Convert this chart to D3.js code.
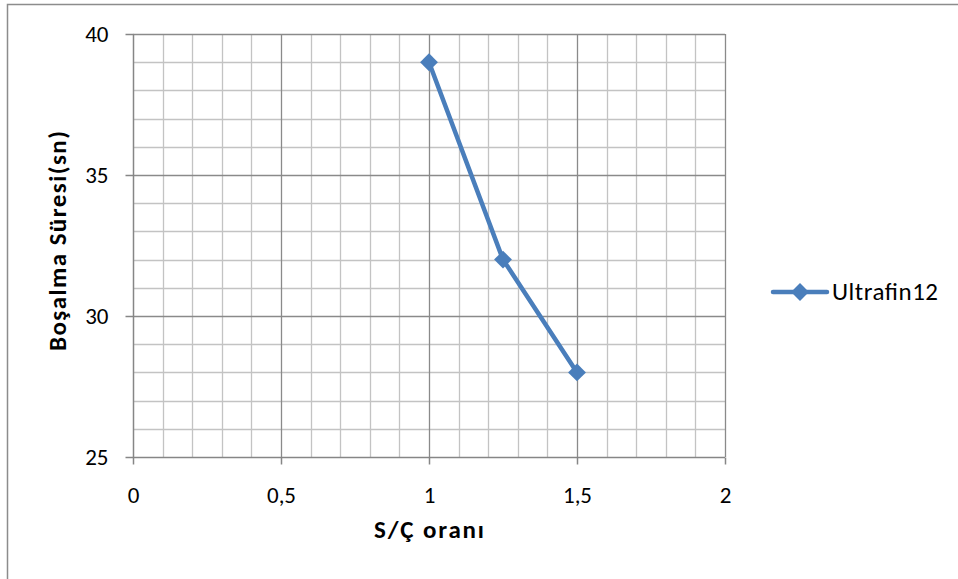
<!DOCTYPE html>
<html>
<head>
<meta charset="utf-8">
<script src="https://cdn.jsdelivr.net/npm/d3@7"></script>
<style>
  body { margin: 0; background: #fff; }
  svg { font-family: Carlito, "Open Sans", "Noto Sans", sans-serif; }
</style>
</head>
<body>
<script>
const seriesName = 'Ultrafin12'
const xValues = [1, 1.25, 1.5]
const yValues = [39, 32, 28]
const xTicks = [0, 0.5, 1, 1.5, 2]
const yTicks = [25, 30, 35, 40]
const xTitle = 'S/Ç oranı'
const yTitle = 'Boşalma Süresi(sn)'

const chart = () => {
    let width = 958,
        height = 579
    let pLeft = 133, pRight = 725, pTop = 34, pBottom = 457
    let blue = '#4a7ebb'

    let svg = d3.select('body').append('svg')
        .attr('width', width)
        .attr('height', height)

    // outer chart border (only top/left visible)
    svg.append('path')
        .attr('d', `M7.5,${height} V4.5 H${width}`)
        .attr('fill', 'none')
        .attr('stroke', '#8c8c8c')
        .attr('stroke-width', 1.5)

    let x = d3.scaleLinear().domain([0, 2]).range([pLeft, pRight])
    let y = d3.scaleLinear().domain([25, 40]).range([pBottom, pTop])

    let fmt = d => String(d).replace('.', ',')

    // minor grid
    let grid = svg.append('g')
    grid.selectAll('.vminor')
        .data(d3.range(1, 20).map(i => i / 10).filter((d, i) => (i + 1) % 5 !== 0))
        .enter().append('line')
        .attr('x1', d => Math.round(x(d)) + 0.5).attr('x2', d => Math.round(x(d)) + 0.5)
        .attr('y1', pTop).attr('y2', pBottom)
        .attr('stroke', '#c3c3c3').attr('stroke-width', 1.3)
    grid.selectAll('.hminor')
        .data(d3.range(26, 40).filter(d => d % 5 !== 0))
        .enter().append('line')
        .attr('y1', d => Math.round(y(d)) + 0.5).attr('y2', d => Math.round(y(d)) + 0.5)
        .attr('x1', pLeft).attr('x2', pRight)
        .attr('stroke', '#c3c3c3').attr('stroke-width', 1.3)

    // major grid
    grid.selectAll('.vmajor')
        .data(xTicks.slice(1))
        .enter().append('line')
        .attr('x1', d => Math.round(x(d)) + 0.5).attr('x2', d => Math.round(x(d)) + 0.5)
        .attr('y1', pTop).attr('y2', pBottom)
        .attr('stroke', '#8a8a8a').attr('stroke-width', 1.3)
    grid.selectAll('.hmajor')
        .data(yTicks.slice(1))
        .enter().append('line')
        .attr('y1', d => Math.round(y(d)) + 0.5).attr('y2', d => Math.round(y(d)) + 0.5)
        .attr('x1', pLeft).attr('x2', pRight)
        .attr('stroke', '#8a8a8a').attr('stroke-width', 1.3)

    // axes
    let xAxis = svg.append('g')
        .attr('transform', `translate(0,${pBottom + 0.5})`)
        .call(d3.axisBottom(x).tickValues(xTicks).tickFormat(fmt).tickSize(7).tickPadding(22))
    let yAxis = svg.append('g')
        .attr('transform', `translate(${pLeft + 0.5},0)`)
        .call(d3.axisLeft(y).tickValues(yTicks).tickSize(8).tickPadding(17))

    svg.selectAll('.domain, .tick line')
        .attr('stroke', '#868686')
        .attr('stroke-width', 1.5)
    svg.selectAll('.tick text')
        .attr('fill', '#000')
        .style('font-size', '23px')
        .style('font-family', 'Carlito, "Open Sans", "Noto Sans", sans-serif')
    xAxis.select('.domain').attr('d', `M${pLeft},0H${pRight}`)
    yAxis.select('.domain').attr('d', `M0,${pTop}V${pBottom}`)

    // titles
    svg.append('text')
        .attr('x', 429)
        .attr('y', 538)
        .attr('text-anchor', 'middle')
        .attr('textLength', 110)
        .attr('lengthAdjust', 'spacing')
        .style('font-size', '25px')
        .style('font-weight', 'bold')
        .text(xTitle)
    svg.append('text')
        .attr('transform', `translate(66,241) rotate(-90)`)
        .attr('text-anchor', 'middle')
        .attr('textLength', 220)
        .attr('lengthAdjust', 'spacing')
        .style('font-size', '25px')
        .style('font-weight', 'bold')
        .text(yTitle)

    // series
    let data = xValues.map((d, i) => ({x: d, y: yValues[i]}))
    let line = d3.line().x(d => x(d.x)).y(d => y(d.y))
    svg.append('path')
        .datum(data)
        .attr('d', line)
        .attr('fill', 'none')
        .attr('stroke', blue)
        .attr('stroke-width', 4.5)
        .attr('stroke-linejoin', 'round')

    let diamond = d3.symbol().type(d3.symbolSquare).size(160)
    svg.selectAll('.pt')
        .data(data).enter()
        .append('path')
        .attr('d', diamond)
        .attr('transform', d => `translate(${x(d.x)},${y(d.y)}) rotate(45)`)
        .attr('fill', blue)

    // legend
    let lg = svg.append('g').attr('transform', 'translate(773,292)')
    lg.append('line')
        .attr('x1', 0).attr('x2', 54)
        .attr('stroke', blue).attr('stroke-width', 4.5)
        .attr('stroke-linecap', 'round')
    lg.append('path')
        .attr('d', diamond)
        .attr('transform', 'translate(27,0) rotate(45)')
        .attr('fill', blue)
    lg.append('text')
        .attr('x', 59)
        .attr('y', 8)
        .attr('textLength', 106)
        .attr('lengthAdjust', 'spacing')
        .style('font-size', '25px')
        .text(seriesName)
}

chart()
</script>
</body>
</html>
